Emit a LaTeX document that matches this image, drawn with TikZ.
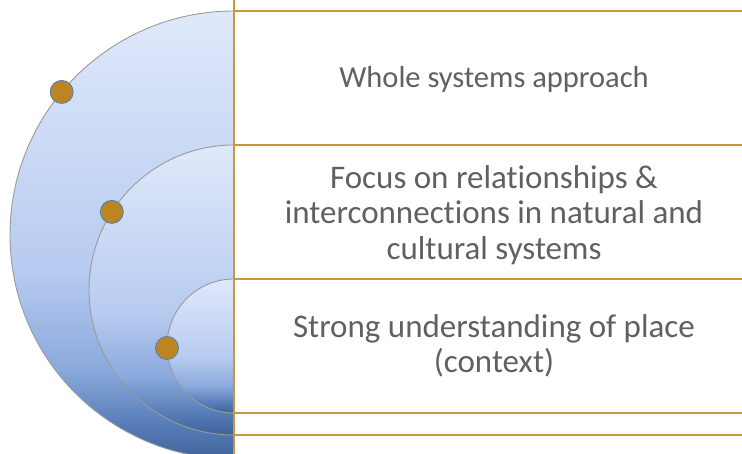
\documentclass[tikz,border=0pt]{standalone}
\usepackage{fontspec}
\setmainfont{Carlito}[Ligatures=NoCommon]
\usepackage{xcolor}
\usetikzlibrary{positioning,calc}

\definecolor{ringgold}{HTML}{C8963E}
\definecolor{dotgold}{HTML}{BC8521}
\definecolor{dotedge}{HTML}{4A7EBB}
\definecolor{rimgrey}{HTML}{9A9A9A}
\definecolor{txtgrey}{HTML}{606060}
\definecolor{bdark}{HTML}{3F649B}
\definecolor{bdeep}{HTML}{587EB8}
\definecolor{bmid}{HTML}{8AA9DC}
\definecolor{bsoft}{HTML}{B7CBF0}
\definecolor{blight}{HTML}{E0E9FB}

\pgfdeclareverticalshading{discfade}{100bp}{color(0bp)=(bdark); color(25bp)=(bdark); color(29bp)=(bdeep); color(35bp)=(bmid); color(46bp)=(bsoft); color(75bp)=(blight); color(100bp)=(blight)}

\begin{document}
\begin{tikzpicture}[x=1pt,y=1pt,
	% half discs, dots, gold rules, row texts
	disc/.style={shade, shading=discfade, draw=rimgrey, line width=0.9pt},
	knob/.style={circle, fill=dotgold, draw=dotedge, line width=0.8pt, minimum size=23pt, inner sep=0pt},
	rule/.style={ringgold, line width=1.3pt},
	rowtext/.style={text=txtgrey, font=\fontsize{33}{35.5}\selectfont, align=center}
	]
	\useasboundingbox (0,0) rectangle (742,454);
	\clip (0,0) rectangle (742,454);
	
	% --- TAM CAC VONG ---
	\coordinate (c1) at (234,219);
	\coordinate (c2) at (234,164);
	\coordinate (c3) at (234,108);
	
	% --- NUA HINH TRON ---
	\path[disc] ($(c1)+(0,224)$) arc[start angle=90, end angle=270, radius=224] -- cycle;
	\path[disc] ($(c2)+(0,145)$) arc[start angle=90, end angle=270, radius=145] -- cycle;
	\path[disc] ($(c3)+(0,67)$) arc[start angle=90, end angle=270, radius=67] -- cycle;
	
	% --- DUONG KE ---
	\draw[rule] (234,454) -- (234,0);
	\draw[rule] ($(c1)+(0,224)$) -- ++(508,0);
	\draw[rule] ($(c2)+(0,145)$) -- ++(508,0);
	\draw[rule] ($(c3)+(0,67)$) -- ++(508,0);
	\draw[rule] ($(c3)+(0,-67)$) -- ++(508,0);
	\draw[rule] ($(c2)+(0,-145)$) -- ++(508,0);
	
	% --- CHAM VANG ---
	\node[knob] (k1) at ($(c1)+(140.3:224)$) {};
	\node[knob] (k2) at ($(c2)+(147.4:145)$) {};
	\node[knob] (k3) at ($(c3)+(181.7:67)$) {};
	
	% --- NOI DUNG ---
	\node[rowtext, font=\fontsize{30.5}{34}\selectfont] (whole) at (494,375) {Whole systems approach};
	\node[rowtext] (focus) at (494,239) {Focus on relationships \&\\interconnections in natural and\\cultural systems};
	\node[rowtext] (place) at (494,108) {Strong understanding of place\\(context)};
	
\end{tikzpicture}
\end{document}
